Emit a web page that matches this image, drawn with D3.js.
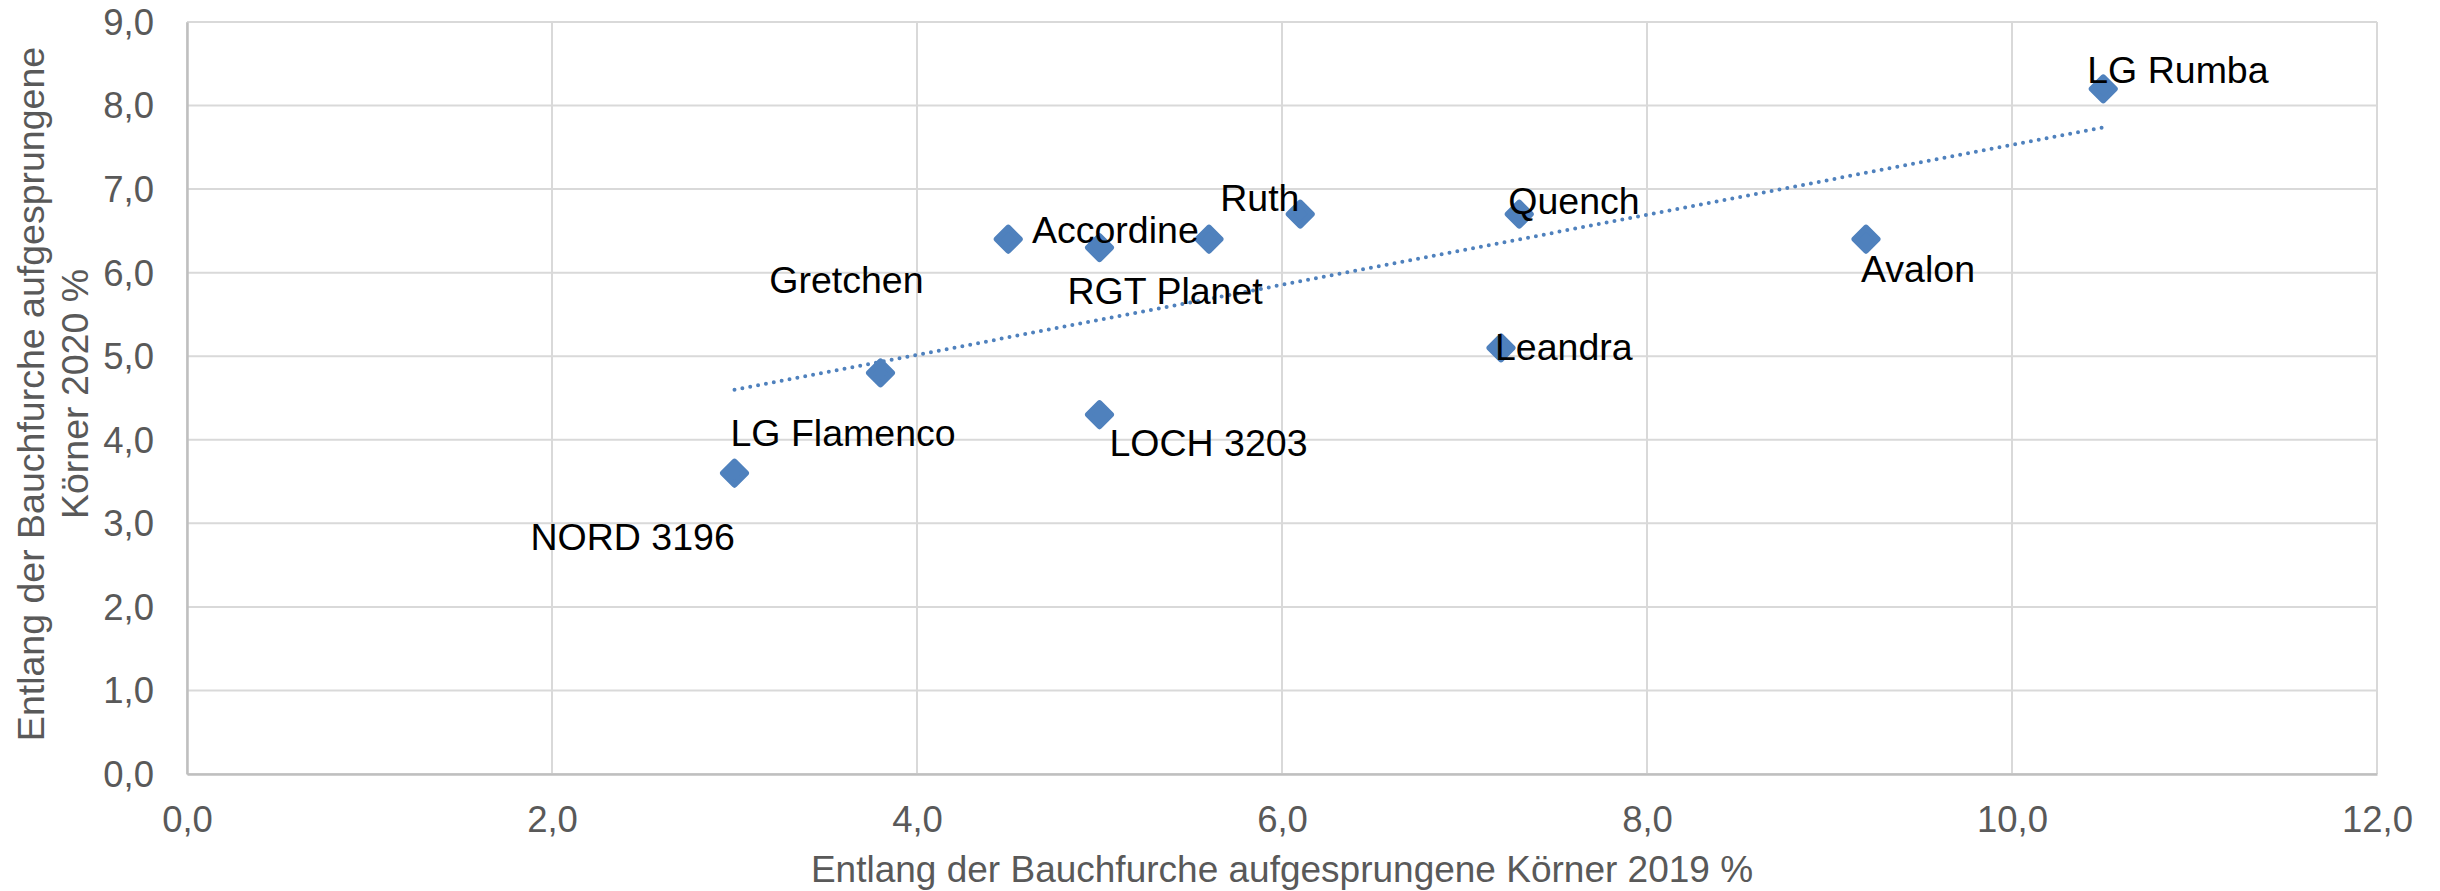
<!DOCTYPE html>
<html>
<head>
<meta charset="utf-8">
<title>Bauchfurche 2019 / 2020</title>
<script src="https://cdn.jsdelivr.net/npm/d3@7/dist/d3.min.js"></script>
<style>
  body { margin: 0; background: #fff; }
  text { font-family: "Liberation Sans", Arial, sans-serif; }
</style>
</head>
<body>
<svg id="chart" width="2440" height="891"></svg>
<script>
// sorten und werte (x = 2019, y = 2020)
var names = ["LG Rumba", "Ruth", "Quench", "Accordine", "Gretchen", "RGT Planet",
             "Avalon", "Leandra", "LG Flamenco", "LOCH 3203", "NORD 3196"];
var x2019 = [10.5, 6.1, 7.3, 5.6, 4.5, 5.0, 9.2, 7.2, 3.8, 5.0, 3.0];
var y2020 = [8.2, 6.7, 6.7, 6.4, 6.4, 6.3, 6.4, 5.1, 4.8, 4.3, 3.6];

var xTicks = [0, 2, 4, 6, 8, 10, 12];
var yTicks = [0, 1, 2, 3, 4, 5, 6, 7, 8, 9];

var xTitle = "Entlang der Bauchfurche aufgesprungene Körner 2019 %";
var yTitle = ["Entlang der Bauchfurche aufgesprungene", "Körner 2020 %"];

// label placement, pixels relative to the marker (manually moved like in excel)
var labelDx = [-16, -80, -11, -177, -239, -32, -5, -6, -150, 10, -204];
var labelDy = [-19, -16, -13, -9, 41, 43, 30, -1, 60, 28, 64];

var m = {left: 187, right: 2377, top: 22, bottom: 774};
var blue = "#4f81bd";

var svg = d3.select("#chart");

var x = d3.scaleLinear().domain([0, 12]).range([m.left, m.right]);
var y = d3.scaleLinear().domain([0, 9]).range([m.bottom, m.top]);
var fmt = function(d){ return d3.format(".1f")(d).replace(".", ","); };

// gridlines
svg.append("g").selectAll("line").data(yTicks).enter().append("line")
  .attr("x1", m.left).attr("x2", m.right)
  .attr("y1", function(d){ return y(d); }).attr("y2", function(d){ return y(d); })
  .attr("stroke", "#d9d9d9").attr("stroke-width", 2);
svg.append("g").selectAll("line").data(xTicks).enter().append("line")
  .attr("y1", m.top).attr("y2", m.bottom)
  .attr("x1", function(d){ return x(d); }).attr("x2", function(d){ return x(d); })
  .attr("stroke", "#d9d9d9").attr("stroke-width", 2);

// axes
var xAxis = svg.append("g").attr("transform", "translate(0," + m.bottom + ")")
  .call(d3.axisBottom(x).tickValues(xTicks).tickFormat(fmt).tickSize(0).tickPadding(32));
var yAxis = svg.append("g").attr("transform", "translate(" + m.left + ",0)")
  .call(d3.axisLeft(y).tickValues(yTicks).tickFormat(fmt).tickSize(0).tickPadding(33));
[xAxis, yAxis].forEach(function(a){
  a.select(".domain").attr("stroke", "#bfbfbf").attr("stroke-width", 2.5);
  a.selectAll("text").attr("font-size", 36.5).attr("fill", "#595959")
    .attr("font-family", "'Liberation Sans', Arial, sans-serif");
});
xAxis.selectAll("text").attr("dy", "0.71em");
yAxis.selectAll("text").attr("dy", "0.34em");

// linear trend
var pts = x2019.map(function(v, i){ return [v, y2020[i]]; });
var mx = d3.mean(x2019), my = d3.mean(y2020);
var slope = d3.sum(pts, function(p){ return (p[0]-mx)*(p[1]-my); }) /
            d3.sum(pts, function(p){ return (p[0]-mx)*(p[0]-mx); });
var icpt = my - slope * mx;
var ext = d3.extent(x2019);
svg.append("line")
  .attr("x1", x(ext[0])).attr("y1", y(icpt + slope*ext[0]))
  .attr("x2", x(ext[1])).attr("y2", y(icpt + slope*ext[1]))
  .attr("stroke", blue).attr("stroke-width", 4)
  .attr("stroke-linecap", "round").attr("stroke-dasharray", "0 8");

// markers
var s = 11.5;
svg.append("g").selectAll("path").data(pts).enter().append("path")
  .attr("d", "M0," + (-s) + "L" + s + ",0L0," + s + "L" + (-s) + ",0Z")
  .attr("transform", function(d){ return "translate(" + x(d[0]) + "," + y(d[1]) + ")"; })
  .attr("fill", blue).attr("stroke", blue).attr("stroke-width", 6)
  .attr("stroke-linejoin", "round");

// labels
svg.append("g").selectAll("text").data(pts).enter().append("text")
  .attr("x", function(d, i){ return x(d[0]) + labelDx[i]; })
  .attr("y", function(d, i){ return y(d[1]) + labelDy[i] + 13; })
  .attr("font-size", 37.5).attr("fill", "#000")
  .text(function(d, i){ return names[i]; });

// axis titles
svg.append("text")
  .attr("x", (m.left + m.right) / 2).attr("y", 882)
  .attr("text-anchor", "middle").attr("font-size", 37).attr("fill", "#595959")
  .text(xTitle);
svg.append("g").attr("transform", "translate(0," + ((m.top + m.bottom) / 2 - 4) + ") rotate(-90)")
  .selectAll("text").data(yTitle).enter().append("text")
  .attr("x", 0).attr("y", function(d, i){ return 44 + i * 44; })
  .attr("text-anchor", "middle").attr("font-size", 37.5).attr("fill", "#595959")
  .text(function(d){ return d; });
</script>
</body>
</html>
